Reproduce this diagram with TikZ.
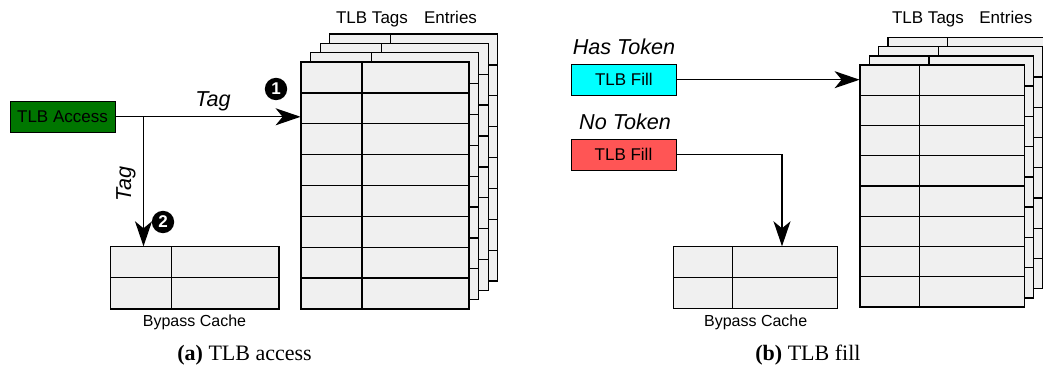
\documentclass[tikz,border=0pt]{standalone}
\usepackage{fontspec}
\setmainfont{Liberation Serif}
\setsansfont{Liberation Sans}
\usetikzlibrary{arrows.meta,fit,calc}
\definecolor{tblgray}{RGB}{240,240,240}
\definecolor{accgreen}{RGB}{0,118,0}
\definecolor{hascyan}{RGB}{0,255,255}
\definecolor{nored}{RGB}{255,85,85}
% grid: x0, y0, width, height, column offset, rows
\newcommand\gridlayer[6]{%
  \filldraw[tbl] (#1,#2) rectangle ++(#3,#4);
  \foreach \i in {1,...,#6} {\ifnum\i<#6\relax\draw[tbl,fill=none] ({#1},{#2+\i*#4/#6}) -- ++(#3,0);\fi}
  \draw[tbl,fill=none] ({#1+#5},#2) -- ++(0,#4);
}
\begin{document}
\begin{tikzpicture}[x=0.5pt,y=-0.5pt,
  tbl/.style={fill=tblgray,draw=black,line width=0.65pt},
  lbl/.style={font=\sffamily\fontsize{8.5}{10}\selectfont,inner sep=0pt},
  smlbl/.style={font=\sffamily\fontsize{8}{10}\selectfont,inner sep=0pt},
  itlbl/.style={font=\sffamily\itshape\fontsize{10.8}{12}\selectfont,inner sep=0pt},
  capt/.style={font=\rmfamily\fontsize{11}{13}\selectfont,inner sep=0pt},
  srcbox/.style={draw=black,line width=0.5pt,minimum width=52.5pt,minimum height=15.5pt,inner sep=0pt,font=\sffamily\fontsize{8.5}{10}\selectfont},
  num/.style={circle,fill=black,text=white,inner sep=0pt,minimum size=11.2pt,font=\sffamily\bfseries\fontsize{8.5}{9}\selectfont},
  arr/.style={line width=0.65pt,-{Stealth[length=12.5pt,width=8.5pt,inset=3.5pt]}},
  conn/.style={line width=0.65pt}]
\useasboundingbox (0,0) rectangle (1043,368);
\clip (0,0) rectangle (1043,368);

% ---------- (a) TLB access ----------
\foreach \k in {3,2,1,0} {\gridlayer{301+9.6*\k}{62-9.3*\k}{168}{247}{61}{8}}
\node[fit={(301,62) (469,309)},inner sep=0pt] (tlbA) {};
\node[lbl,anchor=base] (tagsA) at (372,24) {TLB Tags};
\node[lbl,anchor=base] (entA) at (450.5,24) {Entries};

\gridlayer{110.7}{246.7}{168.3}{62.3}{61}{2}
\node[fit={(110.7,246.7) (279,309)},inner sep=0pt] (bypA) {};
\node[smlbl,anchor=base] (bypAl) at (194.5,326.7) {Bypass Cache};

\node[srcbox,fill=accgreen] (acc) at (62.5,116.8) {TLB Access};
\coordinate (br) at ($(acc.east)+(28,0)$);
\draw[arr] (acc.east) -- (acc.east -| tlbA.west);
\draw[arr] (br) -- (br |- bypA.north);
\node[itlbl,anchor=base] (tagA) at (213,106.7) {Tag};
\node[itlbl,anchor=base,rotate=90] (tagB) at (131,184) {Tag};
\node[num] (n1) at (276,89) {1};
\node[num] (n2) at (163,222) {2};

\node[capt,anchor=base west] (capA) at (177,361) {\textbf{(a)} TLB access};

% ---------- (b) TLB fill ----------
\foreach \k in {3,2,1,0} {\gridlayer{860+9.3*\k}{65-9.1*\k}{164.3}{242}{59.7}{8}}
\node[fit={(860,65) (1024.3,307)},inner sep=0pt] (tlbB) {};
\node[lbl,anchor=base] (tagsB) at (928,24) {TLB Tags};
\node[lbl,anchor=base] (entB) at (1005.8,24) {Entries};

\gridlayer{673.3}{246.7}{164.4}{61.6}{59.4}{2}
\node[fit={(673.3,246.7) (837.7,308.3)},inner sep=0pt] (bypB) {};
\node[smlbl,anchor=base] (bypBl) at (755.7,326.7) {Bypass Cache};

\node[itlbl,anchor=base] (has) at (624,54.3) {Has Token};
\node[srcbox,fill=hascyan] (fillA) at (623.8,79.7) {TLB Fill};
\node[itlbl,anchor=base] (no) at (625,130) {No Token};
\node[srcbox,fill=nored] (fillB) at (623.5,154.7) {TLB Fill};
\draw[arr] (fillA.east) -- (fillA.east -| tlbB.west);
\draw[arr] (fillB.east) -| ($(bypB.north)+(26.5,0)$);

\node[capt,anchor=base west] (capB) at (755,361) {\textbf{(b)} TLB fill};
\end{tikzpicture}
\end{document}
